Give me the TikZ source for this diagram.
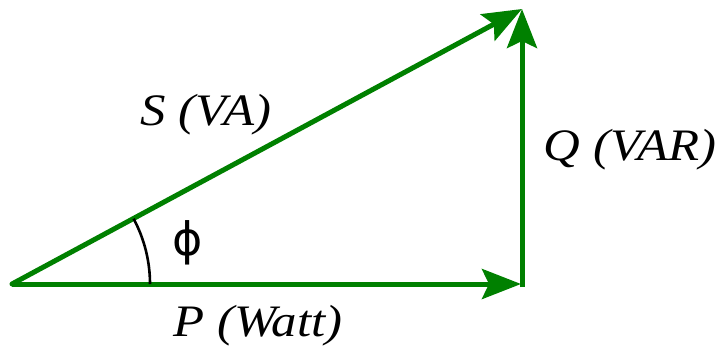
\documentclass[tikz,border=0pt]{standalone}
\usepackage{fontspec}
\setmainfont{Liberation Serif}
\newfontfamily\phifont{DejaVu Sans}
\usetikzlibrary{arrows.meta}
\definecolor{vecgreen}{RGB}{0,128,0}
\tikzset{
  vec/.style={draw=vecgreen, line width=5pt, -{Stealth[length=39pt,width=30pt,inset=7pt]}},
  lbl/.style={inner sep=0pt, anchor=base, font=\fontsize{45}{45}\selectfont\itshape},
}
\begin{document}
\begin{tikzpicture}[x=1pt,y=-1pt]
\useasboundingbox (0,0) rectangle (721,349);
\coordinate (O) at (12,284);
\coordinate (A) at (522,284);
\coordinate (Ab) at (522,287);
\coordinate (B) at (522,9);
\draw[vec] (O) -- ([xshift=-1pt]A);
\draw[vec] (Ab) -- (B);
\draw[vec, line cap=round] (O) -- (B);
\draw[line width=2.6pt, black] ([xshift=138pt]O) arc[start angle=0, end angle=28.2, radius=138pt];
\node[lbl] (S) at (206,125) {\scalebox{1.13}[1]{S (VA)}};
\node[lbl] (Q) at (630,160) {\scalebox{1.13}[1]{Q (VAR)}};
\node[lbl] (P) at (258,336) {\scalebox{1.13}[1]{P (Watt)}};
\node[inner sep=0pt, font=\fontsize{46}{46}\selectfont\phifont] (phi) at (188,243) {ϕ};
\end{tikzpicture}
\end{document}
